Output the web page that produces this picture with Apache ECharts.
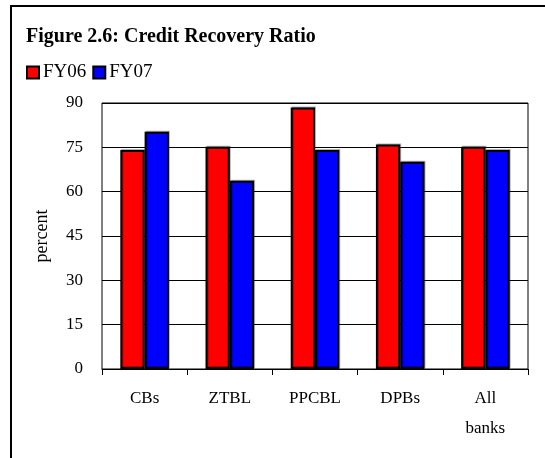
<!DOCTYPE html>
<html>
<head>
<meta charset="utf-8">
<script src="https://cdn.jsdelivr.net/npm/echarts@6/dist/echarts.min.js"></script>
<style>
  html, body { margin: 0; padding: 0; background: #fff; }
  #myChart { width: 545px; height: 458px; }
</style>
</head>
<body>
<div id="myChart"></div>
<script>
var myChart = echarts.init(document.getElementById('myChart'));

var categories = ['CBs', 'ZTBL', 'PPCBL', 'DPBs', 'All\nbanks'];
var fy06 = [74.1, 75.2, 88.5, 76.0, 75.2];
var fy07 = [80.3, 63.7, 74.1, 70.1, 74.1];
var yTicks = [0, 15, 30, 45, 60, 75, 90];

var serif = '"Liberation Serif", "DejaVu Serif", serif';

var option = {
    backgroundColor: '#fff',
    animation: false,
    textStyle: { fontFamily: serif },
    graphic: [
        {
            type: 'rect',
            shape: { x: 11, y: 6, width: 560, height: 470 },
            style: { fill: 'none', stroke: '#000', lineWidth: 2 }
        },
        {
            type: 'text',
            left: 26,
            top: 27,
            style: {
                text: 'Figure 2.6: Credit Recovery Ratio',
                font: 'bold 20px ' + serif,
                fill: '#000'
            }
        }
    ],
    legend: {
        left: 21,
        top: 58,
        itemWidth: 12,
        itemHeight: 12,
        itemGap: 6,
        icon: 'rect',
        textStyle: { fontFamily: serif, fontSize: 19, color: '#000', padding: [0, 0, 0, -1] },
        data: ['FY06', 'FY07']
    },
    grid: {
        left: 102,
        right: 17,
        top: 103,
        bottom: 89,
        show: true,
        borderColor: '#000',
        borderWidth: 1
    },
    xAxis: {
        type: 'category',
        data: categories,
        axisLine: { lineStyle: { color: '#000', width: 1 } },
        axisTick: { show: true, length: 6, lineStyle: { color: '#000' } },
        axisLabel: {
            color: '#000',
            fontFamily: serif,
            fontSize: 17,
            margin: 15,
            lineHeight: 30,
            verticalAlign: 'top'
        }
    },
    yAxis: {
        type: 'value',
        min: yTicks[0],
        max: yTicks[yTicks.length - 1],
        interval: 15,
        name: 'percent',
        nameLocation: 'middle',
        nameGap: 51,
        nameTextStyle: { fontFamily: serif, fontSize: 18, color: '#000' },
        axisLine: { show: false },
        axisTick: { show: false },
        axisLabel: { color: '#000', fontFamily: serif, fontSize: 17, margin: 19 },
        splitLine: { lineStyle: { color: '#000', width: 1 } }
    },
    series: [
        {
            name: 'FY06',
            type: 'bar',
            data: fy06,
            barGap: '0%',
            barCategoryGap: '43%',
            itemStyle: {
                color: '#ff0000',
                borderColor: '#000',
                borderWidth: 2,
                shadowColor: 'rgba(0,0,0,0.3)',
                shadowOffsetX: 1,
                shadowOffsetY: -1
            }
        },
        {
            name: 'FY07',
            type: 'bar',
            data: fy07,
            itemStyle: {
                color: '#0000ff',
                borderColor: '#000',
                borderWidth: 2,
                shadowColor: 'rgba(0,0,0,0.3)',
                shadowOffsetX: 1,
                shadowOffsetY: -1
            }
        }
    ]
};

myChart.setOption(option);
</script>
</body>
</html>
